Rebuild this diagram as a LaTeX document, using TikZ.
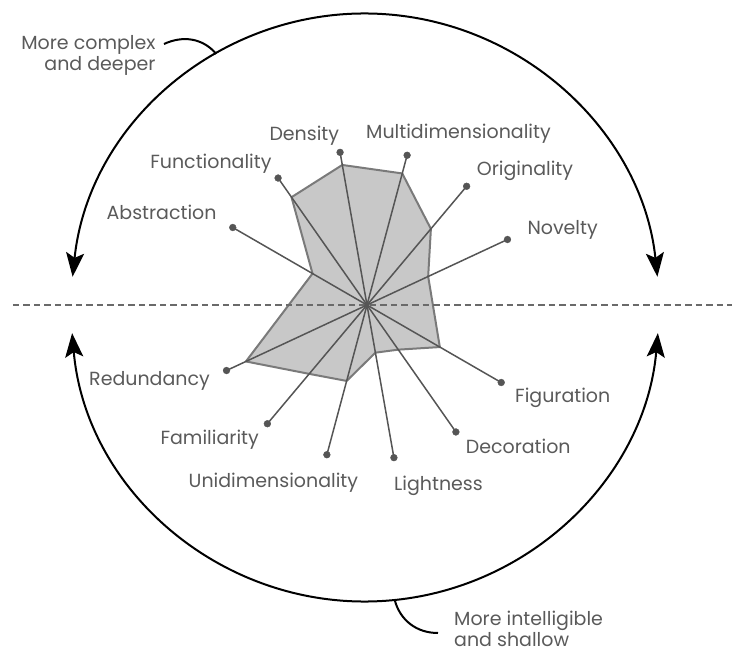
\documentclass[tikz,border=0pt]{standalone}
\usepackage{fontspec}
\setmainfont{Poppins}
\usetikzlibrary{arrows.meta}

\definecolor{spokegray}{HTML}{555555}
\definecolor{polyfill}{HTML}{C8C8C8}
\definecolor{polyedge}{HTML}{7A7A7A}
\definecolor{labelgray}{HTML}{5A5A5A}
\definecolor{dashgray}{HTML}{6A6A6A}

\tikzset{
  lbl/.style={inner sep=0pt, text=labelgray, font=\fontsize{19}{20.7}\selectfont},
  spoke/.style={draw=spokegray, line width=1.5pt},
  bigarc/.style={line width=2pt, {Stealth[length=24pt,width=18pt,inset=5pt]}-{Stealth[length=24pt,width=18pt,inset=5pt]}},
  hook/.style={line width=2pt}
}

\begin{document}
\begin{tikzpicture}[x=1pt,y=1pt]
        \useasboundingbox (-367,-349) rectangle (372,305);

        \coordinate (O) at (0,0);
        \coordinate (C) at (-2,-2.5);

        % ends of the spokes
        \coordinate (abs) at (150:155);
        \coordinate (fun) at (125:155);
        \coordinate (den) at (100:155);
        \coordinate (mul) at (75:155);
        \coordinate (ori) at (50:155);
        \coordinate (nov) at (25:155);
        \coordinate (fig) at (-30:155);
        \coordinate (dec) at (-55:155);
        \coordinate (lig) at (-80:155);
        \coordinate (uni) at (-105:155);
        \coordinate (fam) at (-130:155);
        \coordinate (red) at (-155:155);

        \filldraw[fill=polyfill, draw=polyedge, line width=2pt, line join=round]
            (150:62.9) -- (125:131.6) -- (100:142.2) -- (75:136.2) -- (50:99.4) -- (25:67.5)
            -- (-30:84.1) -- (-55:54.5) -- (-80:48.4) -- (-105:78.6) -- (-130:89.9) -- (-155:133.6) -- cycle;

        \coordinate (dl) at (-354,0);
        \coordinate (dr) at (365,0);
        \draw[dashgray, line width=1.2pt, dash pattern=on 6.5pt off 4pt] (dl) -- (dr);

        \draw[spoke] (O) -- (abs);
        \draw[spoke] (O) -- (fun);
        \draw[spoke] (O) -- (den);
        \draw[spoke] (O) -- (mul);
        \draw[spoke] (O) -- (ori);
        \draw[spoke] (O) -- (nov);
        \draw[spoke] (O) -- (fig);
        \draw[spoke] (O) -- (dec);
        \draw[spoke] (O) -- (lig);
        \draw[spoke] (O) -- (uni);
        \draw[spoke] (O) -- (fam);
        \draw[spoke] (O) -- (red);

        \filldraw[spokegray] (abs) circle (3.4pt);
        \filldraw[spokegray] (fun) circle (3.4pt);
        \filldraw[spokegray] (den) circle (3.4pt);
        \filldraw[spokegray] (mul) circle (3.4pt);
        \filldraw[spokegray] (ori) circle (3.4pt);
        \filldraw[spokegray] (nov) circle (3.4pt);
        \filldraw[spokegray] (fig) circle (3.4pt);
        \filldraw[spokegray] (dec) circle (3.4pt);
        \filldraw[spokegray] (lig) circle (3.4pt);
        \filldraw[spokegray] (uni) circle (3.4pt);
        \filldraw[spokegray] (fam) circle (3.4pt);
        \filldraw[spokegray] (red) circle (3.4pt);

        \node[lbl, anchor=base east] (absl) at (-150.3,85.7) {Abstraction};
        \node[lbl, anchor=base east] (funl) at (-95.3,136.7) {Functionality};
        \node[lbl, anchor=base east] (denl) at (-27.7,164.3) {Density};
        \node[lbl, anchor=base west] (mull) at (-1,166.7) {Multidimensionality};
        \node[lbl, anchor=base west] (oril) at (109.7,129.3) {Originality};
        \node[lbl, anchor=base west] (novl) at (160.3,70.7) {Novelty};
        \node[lbl, anchor=base west] (figl) at (148,-97.7) {Figuration};
        \node[lbl, anchor=base west] (decl) at (98.7,-148.3) {Decoration};
        \node[lbl, anchor=base west] (ligl) at (27,-185.7) {Lightness};
        \node[lbl, anchor=base east] (unil) at (-8.7,-182.3) {Unidimensionality};
        \node[lbl, anchor=base east] (faml) at (-108,-139.3) {Familiarity};
        \node[lbl, anchor=base east] (redl) at (-157,-80) {Redundancy};

        % the two halves of the circle
        \draw[bigarc] ([shift={(174:294)}]C) arc[start angle=174, end angle=6, radius=294];
        \draw[bigarc] ([shift={(185:294)}]C) arc[start angle=185, end angle=355, radius=294];

        \node[lbl, align=right, anchor=base east] (deep) at (-211.3,235) {More complex\\and deeper};
        \node[lbl, align=left, anchor=base west] (shallow) at (87,-341.5) {More intelligible\\and shallow};

        \coordinate (hookA) at (-203,261);
        \coordinate (hookB) at (71,-328);
        \draw[hook] (hookA) to[out=25, in=130] ([shift={(120.4:294)}]C);
        \draw[hook] ([shift={(275.8:294)}]C) to[out=-75, in=180] (hookB);
    \end{tikzpicture}
\end{document}
